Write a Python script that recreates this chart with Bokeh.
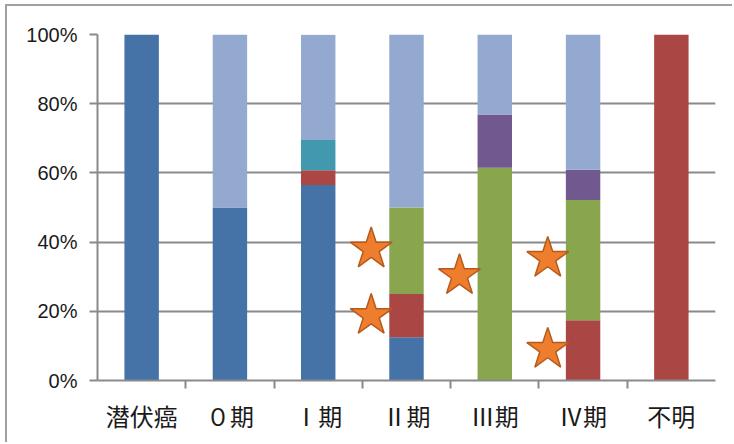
from bokeh.plotting import figure
from bokeh.models import (FactorRange, Range1d, FixedTicker, CategoricalAxis,
                          PrintfTickFormatter, ColumnDataSource)
from bokeh.transform import dodge
from bokeh.embed import file_html
from bokeh.resources import INLINE

categories = ["潜伏癌", "０期", "Ⅰ期", "Ⅱ期", "Ⅲ期", "Ⅳ期", "不明"]
series = ["s1", "s2", "s3", "s4", "s5", "s6"]
s1 = [100, 50, 56.5, 12.5, 0, 0, 0]
s2 = [0, 0, 4.3, 12.5, 0, 17.4, 100]
s3 = [0, 0, 0, 25, 61.5, 34.8, 0]
s4 = [0, 0, 0, 0, 15.4, 8.7, 0]
s5 = [0, 0, 8.7, 0, 0, 0, 0]
s6 = [0, 50, 30.4, 50, 23.1, 39.1, 0]
colors = ["#4572A7", "#AA4643", "#89A54E", "#71588F", "#4198AF", "#93A9D0"]

star_cats = ["Ⅱ期", "Ⅱ期", "Ⅲ期", "Ⅳ期", "Ⅳ期"]
star_y = [38.0, 18.8, 30.3, 35.3, 9.0]

y_ticks = [0, 20, 40, 60, 80, 100]

GRID = "#8a8a8a"

src = ColumnDataSource(dict(cat=categories, s1=s1, s2=s2, s3=s3, s4=s4, s5=s5, s6=s6))

p = figure(x_range=FactorRange(*categories), y_range=Range1d(0, 100),
           width=727, height=438, output_backend="svg", toolbar_location=None,
           x_axis_location=None, min_border_left=90, min_border_right=19,
           min_border_top=28, min_border_bottom=64)
p.styles = {"margin-left": "5px", "margin-top": "4px",
            "border-top": "2px solid #a0a0a0", "border-left": "2px solid #a0a0a0"}
p.outline_line_color = None
p.background_fill_color = "white"

p.vbar_stack(series, x="cat", width=0.39, color=colors, line_color=None, source=src)

star_src = ColumnDataSource(dict(cat=star_cats, y=star_y))
p.scatter(x=dodge("cat", -0.40, range=p.x_range), y="y", source=star_src, marker="star",
          size=44, fill_color="#EE7E2E", line_color="#B65A1B", line_width=1.5)

# y axis
ya = p.yaxis[0]
ya.ticker = FixedTicker(ticks=y_ticks)
ya.formatter = PrintfTickFormatter(format="%d%%")
ya.axis_line_color = GRID
ya.axis_line_width = 2
ya.major_tick_line_color = GRID
ya.major_tick_line_width = 2
ya.major_tick_out = 8
ya.major_tick_in = 0
ya.minor_tick_line_color = None
ya.major_label_text_font = "Liberation Sans"
ya.major_label_text_font_size = "20px"
ya.major_label_text_color = "#1a1a1a"
ya.major_label_standoff = 12

p.ygrid.ticker = FixedTicker(ticks=y_ticks)
p.ygrid.grid_line_color = GRID
p.ygrid.grid_line_width = 2
p.xgrid.grid_line_color = None

# boundary ticks on x axis: a categorical range whose factor centres fall on the category edges
edge_factors = ["e%d" % i for i in range(len(categories) + 1)]
p.extra_x_ranges = {"edges": FactorRange(*edge_factors, range_padding=-1.0 / len(edge_factors),
                                         range_padding_units="percent")}
ea = CategoricalAxis(x_range_name="edges")
ea.major_label_text_font_size = "0px"
ea.major_label_text_color = None
ea.major_label_standoff = 0
ea.axis_line_color = GRID
ea.axis_line_width = 2
ea.major_tick_line_color = GRID
ea.major_tick_line_width = 2
ea.major_tick_out = 8
ea.major_tick_in = 0
p.add_layout(ea, "below")

ca = CategoricalAxis()
ca.axis_line_color = None
ca.major_tick_line_color = None
ca.major_tick_out = 0
ca.major_label_text_font = "Noto Sans CJK JP"
ca.major_label_text_font_size = "24px"
ca.major_label_text_color = "#1a1a1a"
ca.major_label_standoff = 9
p.add_layout(ca, "below")

open("out.html", "w").write(file_html(p, INLINE))
